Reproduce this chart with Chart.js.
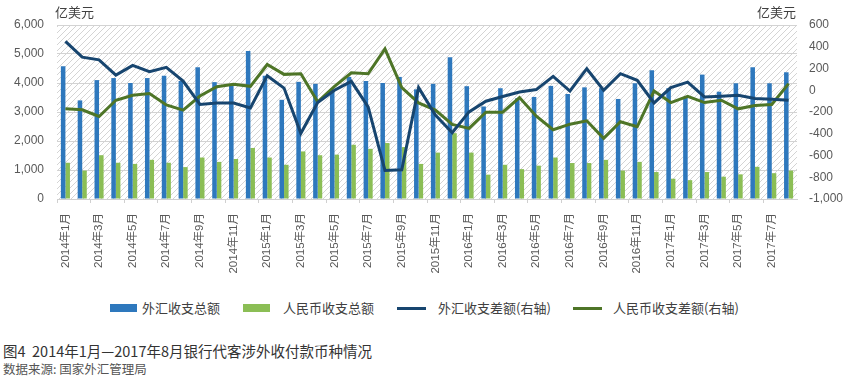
<!DOCTYPE html>
<html>
<head>
<meta charset="utf-8">
<script src="https://cdn.jsdelivr.net/npm/chart.js@4.4.1/dist/chart.umd.min.js"></script>
<style>
  html, body { margin: 0; padding: 0; background: #ffffff; }
  #wrap { position: relative; width: 846px; height: 383px; overflow: hidden; font-family: "Noto Sans CJK SC", "Liberation Sans", sans-serif; }
  #chartBox { position: absolute; left: 0; top: 0; width: 846px; height: 290px; }
  .unit { position: absolute; top: 4px; font-size: 13px; color: #404040; line-height: 16px; }
  .leg { position: absolute; font-size: 13px; color: #404040; line-height: 16px; top: 300px; white-space: nowrap; }
  .box { position: absolute; top: 304px; width: 27px; height: 8px; }
  .ln { position: absolute; top: 307px; width: 29px; height: 3px; }
  #cap { position: absolute; left: 3px; top: 342px; font-size: 14.5px; color: #333333; line-height: 18px; white-space: nowrap; }
  #src { position: absolute; left: 3px; top: 361px; font-size: 12.5px; color: #555555; line-height: 16px; white-space: nowrap; }
</style>
</head>
<body>
<div id="wrap">
  <div id="chartBox"><canvas id="c"></canvas></div>
  <div class="unit" style="left:55px;">亿美元</div>
  <div class="unit" style="left:757px;">亿美元</div>

  <div class="box" style="left:110px;background:#2E78BD;"></div>
  <div class="leg" style="left:142px;">外汇收支总额</div>
  <div class="box" style="left:243px;background:#8BBE55;"></div>
  <div class="leg" style="left:283px;">人民币收支总额</div>
  <div class="ln" style="left:397px;background:#17456F;"></div>
  <div class="leg" style="left:438px;">外汇收支差额(右轴)</div>
  <div class="ln" style="left:573px;background:#4E7527;"></div>
  <div class="leg" style="left:613px;">人民币收支差额(右轴)</div>

  <div id="cap">图4&nbsp; 2014年1月—2017年8月银行代客涉外收付款币种情况</div>
  <div id="src">数据来源: 国家外汇管理局</div>
</div>
<script>
const months = [
  "2014年1月","2014年2月","2014年3月","2014年4月","2014年5月","2014年6月","2014年7月","2014年8月","2014年9月","2014年10月","2014年11月","2014年12月",
  "2015年1月","2015年2月","2015年3月","2015年4月","2015年5月","2015年6月","2015年7月","2015年8月","2015年9月","2015年10月","2015年11月","2015年12月",
  "2016年1月","2016年2月","2016年3月","2016年4月","2016年5月","2016年6月","2016年7月","2016年8月","2016年9月","2016年10月","2016年11月","2016年12月",
  "2017年1月","2017年2月","2017年3月","2017年4月","2017年5月","2017年6月","2017年7月","2017年8月"
];
const fxTotal = [4580,3400,4100,4170,4000,4170,4250,4070,4540,4030,3940,5100,
  4250,3420,4040,3970,3740,4210,4070,4000,4210,3780,3970,4890,
  3890,3190,3820,3470,3520,3900,3620,3850,3820,3450,3990,4440,
  3820,3510,4290,3700,3990,4540,3990,4370];
const rmbTotal = [1250,980,1510,1250,1210,1350,1250,1100,1430,1280,1380,1760,
  1430,1180,1640,1510,1530,1870,1730,1930,1790,1210,1600,2270,
  1600,840,1180,1030,1150,1430,1240,1240,1350,980,1280,930,
  700,650,930,770,850,1110,890,980];
const fxNet = [450,304,280,139,228,170,210,85,-131,-117,-117,-162,
  134,20,-396,-113,0,82,-153,-738,-732,24,-229,-391,
  -199,-101,-58,-16,6,128,-7,198,0,152,91,-117,
  24,75,-62,-55,-46,-76,-83,-92];
const rmbNet = [-171,-180,-241,-92,-46,-31,-135,-183,-53,33,54,36,
  237,146,152,-107,36,161,152,381,24,-117,-183,-314,
  -351,-202,-202,-67,-238,-363,-312,-281,-442,-290,-336,-7,
  -113,-55,-113,-92,-171,-141,-131,61];
const leftTicks = [0,1000,2000,3000,4000,5000,6000];
const rightTicks = [-1000,-800,-600,-400,-200,0,200,400,600];

const tickFont = { family: "'Liberation Sans Narrow','Arial Narrow','Liberation Sans',sans-serif", size: 12 };

const hatch = {
  id: 'hatch',
  beforeDraw(chart) {
    const a = chart.chartArea; const ctx = chart.ctx;
    const p = document.createElement('canvas'); p.width = 6; p.height = 6;
    const pc = p.getContext('2d');
    pc.strokeStyle = '#d4d4d4'; pc.lineWidth = 1;
    pc.beginPath();
    pc.moveTo(0, 6); pc.lineTo(6, 0);
    pc.moveTo(-1, 1); pc.lineTo(1, -1);
    pc.moveTo(5, 7); pc.lineTo(7, 5);
    pc.stroke();
    ctx.save();
    ctx.fillStyle = ctx.createPattern(p, 'repeat');
    ctx.fillRect(a.left, a.top, a.right - a.left, a.bottom - a.top);
    ctx.restore();
  }
};

new Chart(document.getElementById('c'), {
  type: 'bar',
  data: {
    labels: months,
    datasets: [
      { type: 'line', label: '外汇收支差额(右轴)', data: fxNet, yAxisID: 'y1', borderColor: '#17456F', backgroundColor: '#17456F', borderWidth: 3, pointRadius: 0, tension: 0, order: 0 },
      { type: 'line', label: '人民币收支差额(右轴)', data: rmbNet, yAxisID: 'y1', borderColor: '#4E7527', backgroundColor: '#4E7527', borderWidth: 3, pointRadius: 0, tension: 0, order: 1 },
      { type: 'bar', label: '外汇收支总额', data: fxTotal, yAxisID: 'y', backgroundColor: '#2E78BD', categoryPercentage: 0.54, barPercentage: 1, order: 2 },
      { type: 'bar', label: '人民币收支总额', data: rmbTotal, yAxisID: 'y', backgroundColor: '#8BBE55', categoryPercentage: 0.54, barPercentage: 1, order: 3 }
    ]
  },
  options: {
    responsive: true,
    maintainAspectRatio: false,
    animation: false,
    layout: { padding: { top: 25, left: 0, right: 0, bottom: 0 } },
    plugins: { legend: { display: false }, tooltip: { enabled: false } },
    scales: {
      x: {
        offset: true,
        grid: { offset: true, drawOnChartArea: false, drawTicks: true, tickLength: 4,
          color: (ctx) => (ctx.index % 2 === 0 ? '#d0d0d0' : 'rgba(0,0,0,0)') },
        border: { color: '#d0d0d0', width: 1 },
        ticks: {
          autoSkip: false, minRotation: 90, maxRotation: 90, padding: 10,
          color: '#595959',
          font: { family: "'Liberation Sans','Noto Sans CJK SC',sans-serif", size: 11.5 },
          callback: function(v, i) { return i % 2 === 0 ? months[i] : ''; }
        },
        afterFit: (s) => { s.height = 91; }
      },
      y: {
        position: 'left', min: 0, max: 6000,
        afterBuildTicks: (s) => { s.ticks = leftTicks.map(v => ({ value: v })); },
        grid: { color: '#d3d3d3', lineWidth: 1, drawTicks: false },
        border: { display: false },
        ticks: { padding: 13, color: '#595959', font: tickFont,
          callback: (v) => Number(v).toLocaleString('en-US') },
        afterFit: (s) => { s.width = 57; }
      },
      y1: {
        position: 'right', min: -1000, max: 600,
        afterBuildTicks: (s) => { s.ticks = rightTicks.map(v => ({ value: v })); },
        grid: { drawOnChartArea: false, drawTicks: false },
        border: { display: false },
        ticks: { padding: 12, color: '#595959', font: tickFont,
          callback: (v) => Number(v).toLocaleString('en-US') },
        afterFit: (s) => { s.width = 49; }
      }
    }
  },
  plugins: [hatch]
});
</script>
</body>
</html>
